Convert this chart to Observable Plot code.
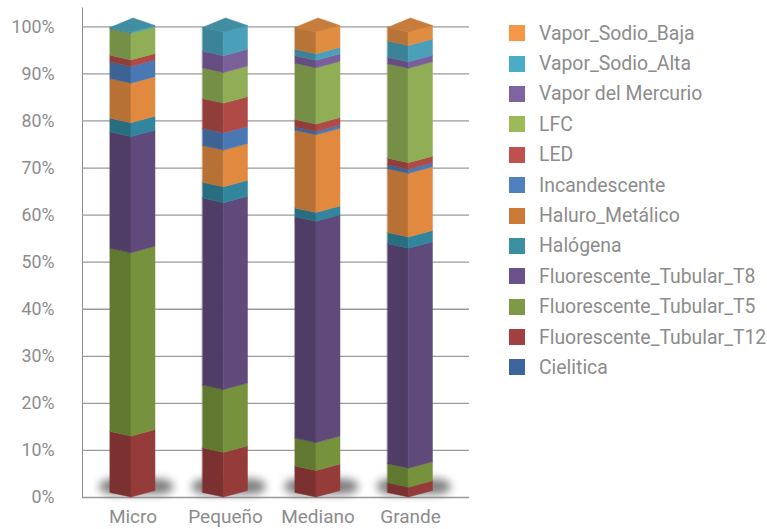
<!DOCTYPE html>
<html><head><meta charset="utf-8">
<script src="https://cdn.jsdelivr.net/npm/d3@7"></script>
<script src="https://cdn.jsdelivr.net/npm/@observablehq/plot@0.6"></script>
<style>
html,body{margin:0;padding:0;background:#fff;}
#wrap{position:relative;width:767px;height:529px;font-family:Roboto,sans-serif;overflow:hidden;}
#chart{position:absolute;left:0;top:0;}
#legend{position:absolute;left:509px;top:18px;}
.row{height:30.4px;display:flex;align-items:center;}
.sw{width:16px;height:16px;margin-right:14px;flex:none;}
.lab{font-size:19.4px;color:#8c8c8c;white-space:nowrap;}
.shadow{filter:blur(4.5px);}
[aria-label^="x-axis"] text{font-size:19px;}
</style></head><body><div id="wrap"><div id="chart"></div><div id="legend"></div></div>
<script>
// ---- data (percent of each category), stack order bottom -> top ----
const categories = ["Micro", "Pequeño", "Mediano", "Grande"];
const seriesNames = ["Cielitica", "Fluorescente_Tubular_T12", "Fluorescente_Tubular_T5", "Fluorescente_Tubular_T8", "Halógena", "Haluro_Metálico", "Incandescente", "LED", "LFC", "Vapor del Mercurio", "Vapor_Sodio_Alta", "Vapor_Sodio_Baja"];
const cielitica        = [0, 0, 0, 0];
const tubularT12       = [13.1, 9.6, 5.7, 2.1];
const tubularT5        = [39.4, 13.5, 6.0, 4.1];
const tubularT8        = [25.0, 40.2, 47.6, 47.3];
const halogena         = [3.0, 3.4, 1.9, 2.4];
const haluroMetalico   = [8.5, 7.9, 16.7, 13.7];
const incandescente    = [3.6, 3.7, 0.7, 0.9];
const led              = [1.4, 6.4, 1.6, 1.4];
const lfc              = [5.7, 6.6, 12.1, 20.3];
const vaporMercurio    = [0, 3.6, 1.6, 1.4];
const vaporSodioAlta   = [0.3, 5.1, 1.4, 3.5];
const vaporSodioBaja   = [0, 0, 4.7, 2.9];
const yTicks = [0, 10, 20, 30, 40, 50, 60, 70, 80, 90, 100];
// legend swatch colours and lit-face colours, same order as seriesNames
const legendColors = ["#3b659c", "#a04040", "#7e9a45", "#6a518b", "#3a8fa0", "#cc7a38", "#4f81bd", "#c0504d", "#9bbb59", "#8064a2", "#4bacc6", "#f79646"];
const faceColors   = ["#3b6497", "#953c3a", "#76923c", "#604a7b", "#31859c", "#e0893f", "#4a78b5", "#b04a47", "#8fae55", "#7b5f9a", "#4aa0b8", "#e08d42"];

const seriesValues = [cielitica, tubularT12, tubularT5, tubularT8, halogena, haluroMetalico, incandescente, led, lfc, vaporMercurio, vaporSodioAlta, vaporSodioBaja];

// ---- 3D box style constants (x in category units, y in percent units) ----
const K = 0.988;                 // perspective shrink of the box height
const XL = -0.243, XF = -0.016, XB = 0.006, XR = 0.243;   // left edge, front corner, back corner, right edge
const DL = 0.96, DR = 1.38, DB = 2.98;                      // vertical lift of left / right / back corner

const faces = [];
const tops = [];
const shadows = [];
categories.forEach((cat, c) => {
  const total = d3.sum(seriesValues, s => s[c]);
  let acc = 0, topIdx = 0;
  seriesValues.forEach((s, i) => {
    const v = s[c];
    if (!(v > 0)) return;
    const v0 = acc / total * 100, v1 = (acc + v) / total * 100;
    acc += v;
    topIdx = i;
    const right = faceColors[i];
    const left = d3.color(right).darker(0.55).formatHex();
    const idL = `${c}-${i}-L`, idR = `${c}-${i}-R`;
    faces.push({id: idL, x: c + XL, y1: K * v0 + DL, y2: K * v1 + DL, color: left});
    faces.push({id: idL, x: c + XF, y1: K * v0, y2: K * v1, color: left});
    faces.push({id: idR, x: c + XF, y1: K * v0, y2: K * v1, color: right});
    faces.push({id: idR, x: c + XR, y1: K * v0 + DR, y2: K * v1 + DR, color: right});
  });
  const T = K * 100;
  const topColor = d3.color(faceColors[topIdx]).darker(0.35).formatHex();
  const id = `${c}-top`;
  const backAtF = T + DL + (DB - DL) * (XF - XL) / (XB - XL);
  const frontAtB = T + DR * (XB - XF) / (XR - XF);
  tops.push({id, x: c + XL, y1: T + DL, y2: T + DL, color: topColor});
  tops.push({id, x: c + XF, y1: T, y2: backAtF, color: topColor});
  tops.push({id, x: c + XB, y1: frontAtB, y2: T + DB, color: topColor});
  tops.push({id, x: c + XR, y1: T + DR, y2: T + DR, color: topColor});
  shadows.push({x1: c - 0.36, x2: c + 0.44, y1: 0.6, y2: 3.9});
});

const chart = Plot.plot({
  width: 767,
  height: 529,
  marginLeft: 82,
  marginRight: 298,
  marginTop: 7.5,
  marginBottom: 32,
  style: {fontFamily: "Roboto, sans-serif", fontSize: "17.8px", color: "#8c8c8c", background: "transparent"},
  x: {type: "linear", domain: [0, 3], range: [132.5, 410], ticks: [0, 1, 2, 3], tickFormat: i => categories[i], tickSize: 0, tickPadding: 12, label: null},
  y: {domain: [0, 104], range: [497, 7.5], ticks: yTicks, tickFormat: d => d + "%", tickSize: 0, tickPadding: 28, line: true, label: null},
  color: {type: "identity"},
  marks: [
    Plot.ruleY(yTicks, {stroke: "#9a9a9a", strokeWidth: 1.3}),
    Plot.rect(shadows, {x1: "x1", x2: "x2", y1: "y1", y2: "y2", rx: 14, fill: "#555", fillOpacity: 0.75, className: "shadow"}),
    Plot.area(faces, {x1: "x", y1: "y1", y2: "y2", z: "id", fill: "color", stroke: "color", strokeWidth: 0.5, curve: "linear"}),
    Plot.area(tops, {x1: "x", y1: "y1", y2: "y2", z: "id", fill: "color", stroke: "color", strokeWidth: 0.5, curve: "linear"})
  ]
});
document.getElementById("chart").appendChild(chart);

// legend (top series first)
const legend = d3.select("#legend");
seriesNames.map((n, i) => i).reverse().forEach(i => {
  const row = legend.append("div").attr("class", "row");
  row.append("div").attr("class", "sw").style("background", legendColors[i]);
  row.append("div").attr("class", "lab").text(seriesNames[i]);
});
</script>
</body></html>
